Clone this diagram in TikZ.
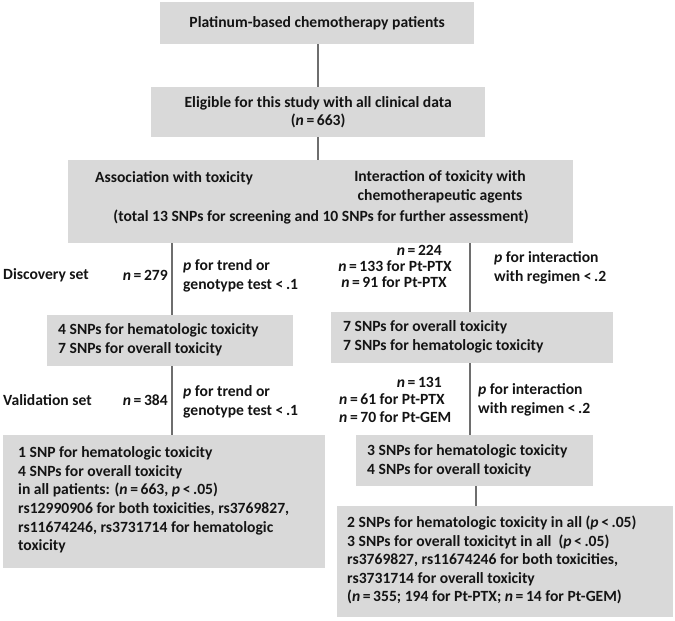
\documentclass[tikz,border=0pt]{standalone}
\usepackage{fontspec}
\setmainfont{Carlito}
\definecolor{boxgray}{HTML}{D9D9D9}
\definecolor{linecol}{HTML}{6E6E6E}
\definecolor{txtcol}{HTML}{141414}
\newcommand{\nn}{\textit{n}\,=\,}
\newcommand{\pp}{\textit{p}}
\begin{document}
\begin{tikzpicture}[x=1pt,y=-1pt,
  box/.style={fill=boxgray, draw=none, inner sep=0pt, anchor=north west},
  txt/.style={font=\fontsize{15.6}{18.6}\selectfont\bfseries, text=txtcol, inner sep=0pt},
  conn/.style={draw=linecol, line width=1.2pt}]
\useasboundingbox (0,0) rectangle (675,621);
% boxes
\node[box, minimum width=314pt, minimum height=42pt] (b1) at (160,2) {};
\node[box, minimum width=334pt, minimum height=50pt] (b2) at (151,87) {};
\node[box, minimum width=505pt, minimum height=83pt] (b3) at (68,160) {};
\node[box, minimum width=246pt, minimum height=51pt] (b4) at (47,315) {};
\node[box, minimum width=282pt, minimum height=51pt] (b5) at (331,312) {};
\node[box, minimum width=322pt, minimum height=133pt] (b6) at (3,435) {};
\node[box, minimum width=237pt, minimum height=51pt] (b7) at (356,435) {};
\node[box, minimum width=336pt, minimum height=111pt] (b8) at (337,506) {};
% x positions of connectors
\coordinate (xm) at (318,0);
\coordinate (xl) at (172,0);
\coordinate (xr) at (470,0);
\coordinate (xr2) at (476,0);
% connectors
\draw[conn] (b1.south -| xm) -- (b2.north -| xm);
\draw[conn] (b2.south -| xm) -- (b3.north -| xm);
\draw[conn] (b3.south -| xl) -- (b4.north -| xl);
\draw[conn] (b4.south -| xl) -- (b6.north -| xl);
\draw[conn] (b3.south -| xr) -- (b5.north -| xr);
\draw[conn] (b5.south -| xr) -- (b7.north -| xr);
\draw[conn] (b7.south -| xr2) -- (b8.north -| xr2);
% texts in boxes
\node[txt] (t1) at (b1.center) {Platinum-based chemotherapy patients};
\node[txt, align=center] (t2) at (b2.center) {Eligible for this study with all clinical data\\(\nn663)};
\node[txt, anchor=west] (t3a) at (95,178) {Association with toxicity};
\node[txt, align=center] (t3b) at (440,187) {Interaction of toxicity with\\chemotherapeutic agents};
\node[txt] (t3c) at (321,217) {(total 13 SNPs for screening and 10 SNPs for further assessment)};
\node[txt, anchor=west, align=left] (t4) at (58,340) {4 SNPs for hematologic toxicity\\7 SNPs for overall toxicity};
\node[txt, anchor=west, align=left] (t5) at (343,337) {7 SNPs for overall toxicity\\7 SNPs for hematologic toxicity};
\node[txt, anchor=west, align=left] (t6) at (18,500) {1 SNP for hematologic toxicity\\4 SNPs for overall toxicity\\in all patients: (\nn663, \pp\,<\,.05)\\rs12990906 for both toxicities, rs3769827,\\rs11674246, rs3731714 for hematologic\\toxicity};
\node[txt, anchor=west, align=left] (t7) at (367,461) {3 SNPs for hematologic toxicity\\4 SNPs for overall toxicity};
\node[txt, anchor=west, align=left] (t8) at (347,560) {2 SNPs for hematologic toxicity in all (\pp\,<\,.05)\\3 SNPs for overall toxicityt in all~~(\pp\,<\,.05)\\rs3769827, rs11674246 for both toxicities,\\rs3731714 for overall toxicity\\(\nn355; 194 for Pt-PTX; \nn14 for Pt-GEM)};
% side labels, discovery
\node[txt, anchor=west] (ld) at (3,275) {Discovery set};
\node[txt, anchor=east] (nd) at (168,275) {\nn279};
\node[txt, anchor=west, align=left] (pd) at (183,276) {\pp{} for trend or\\genotype test <\,.1};
\node[txt, anchor=east] (nr1) at (442,250) {\nn224};
\node[txt] (nr2) at (395,266) {\nn133 for Pt-PTX};
\node[txt] (nr3) at (394,282) {\nn91 for Pt-PTX};
\node[txt, anchor=west, align=left] (pr1) at (494,268) {\pp{} for interaction\\with regimen <\,.2};
% side labels, validation
\node[txt, anchor=west] (lv) at (3,400) {Validation set};
\node[txt, anchor=east] (nv) at (168,400) {\nn384};
\node[txt, anchor=west, align=left] (pv) at (183,402) {\pp{} for trend or\\genotype test <\,.1};
\node[txt, anchor=east] (ns1) at (442,382) {\nn131};
\node[txt, anchor=west] (ns2) at (339,399) {\nn61 for Pt-PTX};
\node[txt, anchor=west] (ns3) at (339,417) {\nn70 for Pt-GEM};
\node[txt, anchor=west, align=left] (pr2) at (478,400) {\pp{} for interaction\\with regimen <\,.2};
\end{tikzpicture}
\end{document}
